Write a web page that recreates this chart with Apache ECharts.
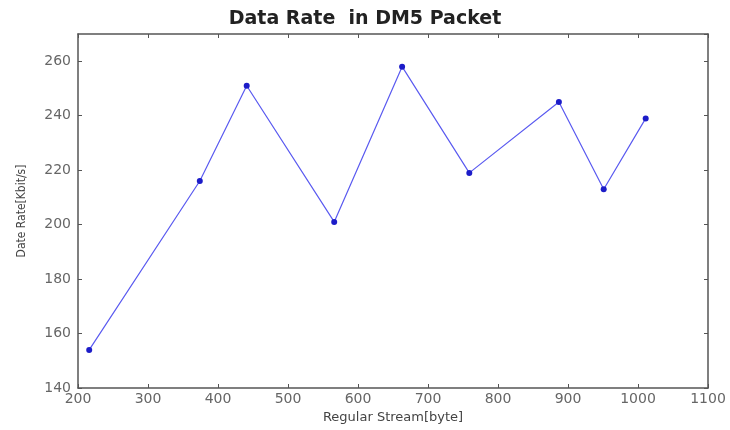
<!DOCTYPE html>
<html>
<head>
<meta charset="utf-8">
<title>Data Rate in DM5 Packet</title>
<script src="https://cdn.jsdelivr.net/npm/echarts@6/dist/echarts.min.js"></script>
<style>
  html, body { margin: 0; padding: 0; background: #fff; }
  #chart { width: 730px; height: 430px; }
</style>
</head>
<body>
<div id="chart"></div>
<script>
  // packet size (bytes) and measured rate (Kbit/s)
  var streamBytes = [216, 374, 441, 566, 663, 759, 887, 951, 1011];
  var dataRate = [154, 216, 251, 201, 258, 219, 245, 213, 239];

  var points = streamBytes.map(function (x, i) { return [x, dataRate[i]]; });

  var axisColor = '#555';
  var labelFont = 'DejaVu Sans';

  var myChart = echarts.init(document.getElementById('chart'));
  myChart.setOption({
    animation: false,
    backgroundColor: '#fff',
    title: {
      text: 'Data Rate  in DM5 Packet',
      left: 'center',
      top: 5,
      textStyle: {
        fontFamily: labelFont,
        fontWeight: 'bold',
        fontSize: 19,
        color: '#222'
      }
    },
    grid: { left: 78, right: 22, top: 34, bottom: 42 },
    xAxis: [
      {
        type: 'value',
        min: 200,
        max: 1100,
        interval: 100,
        name: 'Regular Stream[byte]',
        nameLocation: 'middle',
        nameGap: 22,
        nameTextStyle: { fontFamily: labelFont, fontSize: 13, color: '#444' },
        axisLine: { lineStyle: { color: axisColor, width: 1.5 } },
        axisTick: { inside: true, length: 4, lineStyle: { color: axisColor } },
        axisLabel: {
          fontFamily: labelFont, fontSize: 14, color: '#666', margin: 4,
          formatter: function (v) { return String(v); }
        },
        splitLine: { show: false }
      },
      {
        // top edge of the box
        type: 'value',
        position: 'top',
        min: 200,
        max: 1100,
        interval: 100,
        axisLine: { show: true, lineStyle: { color: axisColor, width: 1.5 } },
        axisTick: { show: true, inside: true, length: 4, lineStyle: { color: axisColor } },
        axisLabel: { show: false },
        splitLine: { show: false }
      }
    ],
    yAxis: [
      {
        type: 'value',
        min: 140,
        max: 270,
        interval: 20,
        name: 'Date Rate[Kbit/s]',
        nameLocation: 'middle',
        nameGap: 50,
        nameTextStyle: { fontFamily: 'DejaVu Sans Condensed', fontSize: 12, color: '#444' },
        axisLine: { lineStyle: { color: axisColor, width: 1.5 } },
        axisTick: { inside: true, length: 4, lineStyle: { color: axisColor } },
        axisLabel: { fontFamily: labelFont, fontSize: 14, color: '#666', margin: 7, showMaxLabel: false },
        splitLine: { show: false }
      },
      {
        // right edge of the box
        type: 'value',
        position: 'right',
        min: 140,
        max: 270,
        interval: 20,
        axisLine: { show: true, lineStyle: { color: axisColor, width: 1.5 } },
        axisTick: { show: true, inside: true, length: 4, lineStyle: { color: axisColor } },
        axisLabel: { show: false },
        splitLine: { show: false }
      }
    ],
    series: [{
      type: 'line',
      xAxisIndex: 0,
      yAxisIndex: 0,
      data: points,
      symbol: 'circle',
      symbolSize: 6,
      lineStyle: { color: '#5a5af0', width: 1.2 },
      itemStyle: { color: '#1c1cc8' }
    }]
  });
</script>
</body>
</html>
